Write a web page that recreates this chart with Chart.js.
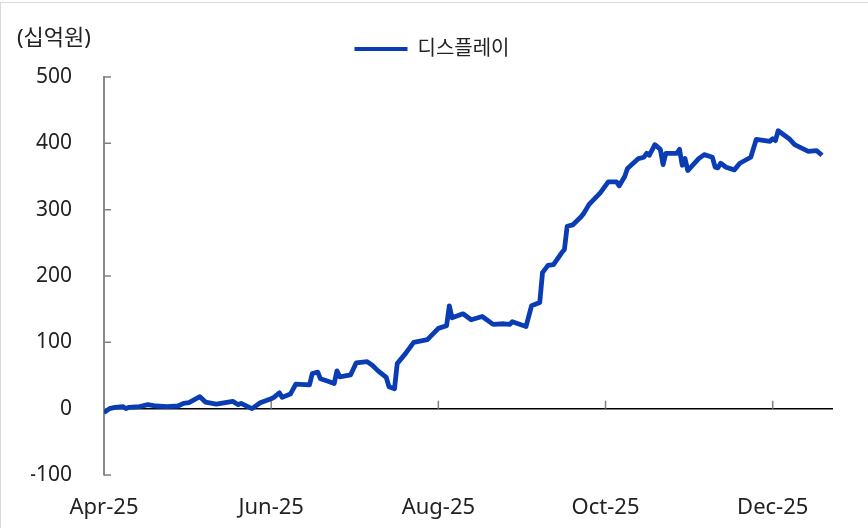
<!DOCTYPE html>
<html lang="ko">
<head>
<meta charset="UTF-8">
<title>디스플레이</title>
<script src="https://cdn.jsdelivr.net/npm/chart.js"></script>
<style>
  html, body { margin: 0; padding: 0; background: #fff; }
  #wrap { position: relative; width: 868px; height: 528px; }
  #frame { position: absolute; left: 0; top: 2px; right: 0; bottom: 0; border-left: 1px solid #d9d9d9; border-top: 1px solid #d9d9d9; pointer-events: none; }
</style>
</head>
<body>
<div id="wrap">
  <canvas id="chart" width="868" height="528"></canvas>
  <div id="frame"></div>
</div>
<script>
const seriesName = '디스플레이';
const unitLabel = '(십억원)';

// 2025, month-day
const dates = [
  '04-01','04-03','04-05','04-08','04-09','04-10','04-14','04-17','04-20','04-24',
  '04-28','04-30','05-02','05-06','05-08','05-12','05-18','05-20','05-21','05-25',
  '05-28','06-01','06-02','06-04','06-05','06-08','06-10','06-15','06-16','06-18',
  '06-19','06-22','06-24','06-25','06-26','06-30','07-02','07-06','07-08','07-10',
  '07-13','07-14','07-16','07-17','07-20','07-23','07-28','08-01','08-04','08-05',
  '08-06','08-10','08-13','08-17','08-21','08-25','08-27','08-28','09-02','09-04',
  '09-07','09-08','09-10','09-12','09-15','09-16','09-17','09-19','09-22','09-23',
  '09-25','09-29','10-02','10-05','10-06','10-08','10-09','10-13','10-15','10-16',
  '10-17','10-19','10-21','10-22','10-23','10-27','10-28','10-29','10-30','10-31',
  '11-02','11-04','11-06','11-09','11-10','11-11','11-12','11-14','11-17','11-19',
  '11-23','11-25','11-30','12-01','12-02','12-03','12-07','12-09','12-11','12-14',
  '12-17','12-19'
];
const values = [
  -6, 0, 2, 3, 0, 2, 3, 6, 4, 3,
  4, 8, 9, 18, 10, 7, 11, 6, 8, 0,
  9, 15, 17, 24, 17, 22, 37, 36, 53, 55,
  45, 41, 38, 57, 48, 51, 69, 71, 65, 57,
  47, 33, 30, 68, 83, 100, 104, 121, 125, 155,
  137, 143, 134, 139, 127, 128, 127, 131, 124, 155,
  160, 205, 216, 217, 235, 240, 275, 277, 289, 294,
  308, 325, 342, 342, 336, 350, 362, 377, 379, 385,
  382, 398, 391, 368, 385, 385, 391, 367, 377, 359,
  368, 377, 383, 379, 364, 363, 370, 364, 360, 370,
  379, 406, 403, 407, 404, 419, 407, 398, 394, 388,
  389, 382
];

const tickDates = ['04-01', '06-01', '08-01', '10-01', '12-01'];
const tickLabels = ['Apr-25', 'Jun-25', 'Aug-25', 'Oct-25', 'Dec-25'];

function dayOf(md) {
  const [m, d] = md.split('-').map(Number);
  return (Date.UTC(2025, m - 1, d) - Date.UTC(2025, 3, 1)) / 86400000;
}

const lineColor = '#0a3db4';
const fontFamily = "'Noto Sans', 'Noto Sans CJK KR', sans-serif";
const tickDays = tickDates.map(dayOf);

// 눈금: x축은 0선 위로, y축은 안쪽으로
const axisMarks = {
  id: 'axisMarks',
  beforeDatasetsDraw(chart) {
    const { ctx, scales: { x, y } } = chart;
    const y0 = y.getPixelForValue(0);
    ctx.save();
    ctx.strokeStyle = '#808080';
    ctx.lineWidth = 1.5;
    ctx.beginPath();
    tickDays.forEach(d => {
      const px = x.getPixelForValue(d);
      ctx.moveTo(px, y0);
      ctx.lineTo(px, y0 - 8);
    });
    y.ticks.forEach(t => {
      const py = y.getPixelForValue(t.value);
      ctx.moveTo(x.left, py);
      ctx.lineTo(x.left + 7, py);
    });
    ctx.stroke();
    ctx.restore();
  },
  afterDraw(chart) {
    const ctx = chart.ctx;
    ctx.save();
    ctx.font = '22px ' + fontFamily;
    ctx.fillStyle = '#222';
    ctx.textBaseline = 'middle';
    ctx.fillText(unitLabel, 17, 39);
    ctx.restore();
  }
};

const legendGap = {
  id: 'legendGap',
  beforeInit(chart) {
    const fit = chart.legend.fit;
    chart.legend.fit = function () {
      fit.bind(chart.legend)();
      this.height += 8;
    };
  }
};

new Chart(document.getElementById('chart'), {
  type: 'line',
  data: {
    datasets: [{
      label: seriesName,
      data: dates.map((d, i) => ({ x: dayOf(d), y: values[i] })),
      borderColor: lineColor,
      backgroundColor: lineColor,
      borderWidth: 4.8,
      pointRadius: 0,
      tension: 0,
      borderJoinStyle: 'round'
    }]
  },
  options: {
    responsive: false,
    animation: false,
    layout: { padding: { left: 31, right: 35, top: 29, bottom: 6 } },
    plugins: {
      legend: {
        position: 'top',
        labels: {
          font: { size: 20, family: fontFamily },
          color: '#222',
          boxWidth: 53,
          boxHeight: 4,
          generateLabels(chart) {
            return Chart.defaults.plugins.legend.labels.generateLabels(chart)
              .map(l => Object.assign(l, { lineWidth: 0, fillStyle: lineColor }));
          }
        }
      },
      tooltip: { enabled: false }
    },
    scales: {
      x: {
        type: 'linear',
        min: 0,
        max: 266,
        afterBuildTicks(scale) {
          scale.ticks = tickDays.map(v => ({ value: v }));
        },
        afterFit(scale) {
          scale.paddingLeft = 0;
          scale.paddingRight = 0;
          scale.height = 47;
        },
        ticks: {
          autoSkip: false,
          maxRotation: 0,
          padding: 20,
          color: '#222',
          font: { size: 22, family: fontFamily },
          callback: v => tickLabels[tickDays.indexOf(v)]
        },
        grid: { display: false, drawTicks: false },
        border: { display: false }
      },
      y: {
        min: -100,
        max: 500,
        afterFit(scale) {
          scale.width = 73;
        },
        ticks: {
          stepSize: 100,
          padding: 32,
          color: '#222',
          font: { size: 21, family: fontFamily }
        },
        grid: {
          drawTicks: false,
          lineWidth: 1.5,
          color: c => c.tick && c.tick.value === 0 ? '#000' : 'rgba(0,0,0,0)'
        },
        border: { color: '#8a8a8a', width: 2 }
      }
    }
  },
  plugins: [axisMarks, legendGap]
});
</script>
</body>
</html>
